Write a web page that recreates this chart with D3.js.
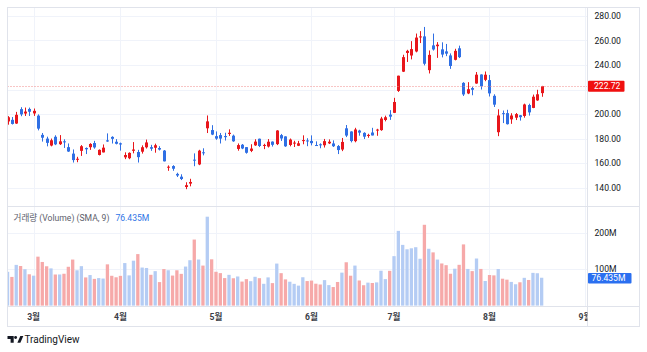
<!DOCTYPE html>
<html><head><meta charset="utf-8">
<script src="https://cdn.jsdelivr.net/npm/d3@7"></script>
<style>
html,body{margin:0;padding:0;background:#fff;}
svg{display:block;font-family:Roboto,"Noto Sans CJK KR",sans-serif;}
</style></head><body>
<svg id="c" width="647" height="352"></svg>
<script>
// ---------------- DATA ----------------
const dates = [
"2024-02-22","2024-02-23","2024-02-26","2024-02-27","2024-02-28","2024-02-29",
"2024-03-01","2024-03-04","2024-03-05","2024-03-06","2024-03-07","2024-03-08","2024-03-11","2024-03-12","2024-03-13","2024-03-14","2024-03-15","2024-03-18","2024-03-19","2024-03-20","2024-03-21","2024-03-22","2024-03-25","2024-03-26","2024-03-27","2024-03-28",
"2024-04-01","2024-04-02","2024-04-03","2024-04-04","2024-04-05","2024-04-08","2024-04-09","2024-04-10","2024-04-11","2024-04-12","2024-04-15","2024-04-16","2024-04-17","2024-04-18","2024-04-19","2024-04-22","2024-04-23","2024-04-24","2024-04-25","2024-04-26","2024-04-29","2024-04-30",
"2024-05-01","2024-05-02","2024-05-03","2024-05-06","2024-05-07","2024-05-08","2024-05-09","2024-05-10","2024-05-13","2024-05-14","2024-05-15","2024-05-16","2024-05-17","2024-05-20","2024-05-21","2024-05-22","2024-05-23","2024-05-24","2024-05-28","2024-05-29","2024-05-30","2024-05-31",
"2024-06-03","2024-06-04","2024-06-05","2024-06-06","2024-06-07","2024-06-10","2024-06-11","2024-06-12","2024-06-13","2024-06-14","2024-06-17","2024-06-18","2024-06-20","2024-06-21","2024-06-24","2024-06-25","2024-06-26","2024-06-27","2024-06-28",
"2024-07-01","2024-07-02","2024-07-03","2024-07-05","2024-07-08","2024-07-09","2024-07-10","2024-07-11","2024-07-12","2024-07-15","2024-07-16","2024-07-17","2024-07-18","2024-07-19","2024-07-22","2024-07-23","2024-07-24","2024-07-25","2024-07-26","2024-07-29","2024-07-30","2024-07-31",
"2024-08-01","2024-08-02","2024-08-05","2024-08-06","2024-08-07","2024-08-08","2024-08-09","2024-08-12","2024-08-13","2024-08-14","2024-08-15","2024-08-16","2024-08-19"];

const open = [
194.00,195.31,192.29,204.04,200.42,204.18,
200.52,198.73,183.05,179.99,174.35,181.50,175.45,177.77,173.05,167.77,163.16,170.02,172.36,173.00,176.39,166.69,168.76,178.58,181.41,177.45,
176.17,164.75,164.02,170.07,169.08,169.34,172.91,173.04,172.55,172.34,170.24,156.74,157.64,151.25,148.97,140.56,143.33,162.84,158.96,168.85,188.42,186.98,
182.00,182.86,182.10,183.80,182.40,171.59,175.01,173.05,170.00,174.50,179.90,174.10,173.55,177.56,175.51,182.85,181.80,174.84,176.40,174.19,178.58,178.50,
178.13,174.78,175.35,174.60,176.13,176.06,173.92,171.12,188.39,185.80,177.92,186.56,184.68,182.30,184.97,186.54,186.92,195.17,199.55,
201.02,218.89,234.56,249.81,247.71,251.00,262.80,263.30,235.80,255.97,255.31,252.73,251.09,247.79,244.21,253.60,225.42,216.80,221.19,224.90,232.25,227.90,
227.69,214.88,185.22,200.75,200.77,195.70,197.05,199.02,198.47,207.39,205.02,211.15,217.07];

const high = [
198.32,197.57,201.78,205.60,205.30,205.28,
204.52,199.75,184.59,181.58,180.04,182.73,182.87,179.43,176.05,171.17,165.18,174.72,172.82,176.25,178.18,171.20,175.24,184.25,181.91,179.57,
176.75,168.82,168.82,177.19,170.86,174.50,179.22,174.93,175.88,173.81,170.69,158.19,158.33,152.20,150.94,144.44,147.26,167.97,170.88,172.12,198.87,190.95,
185.86,184.60,184.78,187.56,183.26,176.06,175.62,173.06,175.40,179.49,180.00,175.79,179.63,177.75,186.88,183.80,181.90,180.08,178.25,178.15,182.67,180.32,
182.64,177.76,176.15,179.73,179.35,178.57,174.75,180.55,191.08,186.00,188.81,187.20,185.21,183.95,188.80,188.00,197.76,198.72,203.20,
213.23,231.30,248.35,252.37,259.44,265.61,267.59,271.00,251.84,265.60,258.62,258.47,257.14,249.44,253.21,255.76,225.99,226.00,222.28,234.27,232.41,234.68,
231.87,216.13,203.88,202.90,203.49,200.70,200.88,199.26,208.49,208.44,215.88,219.80,222.98];

const low = [
191.36,191.50,192.00,198.26,198.44,198.45,
198.50,186.72,177.57,173.70,173.70,174.70,174.80,172.41,169.15,160.51,160.76,165.90,167.42,170.82,171.80,166.30,168.73,177.38,176.00,175.30,
170.21,163.28,163.23,168.01,160.51,167.79,171.92,170.01,168.51,170.36,161.38,153.75,153.78,148.70,146.22,138.80,141.11,157.51,158.36,166.37,184.54,182.84,
179.01,176.02,178.42,182.20,177.40,170.15,171.40,167.75,169.00,174.07,173.11,171.43,172.75,173.52,174.71,178.12,173.26,173.73,173.16,173.93,175.38,173.82,
174.49,174.00,172.13,172.73,175.58,173.17,167.41,169.80,181.23,176.92,177.00,182.37,179.66,180.69,182.56,182.29,186.36,194.05,195.26,
200.85,218.06,234.25,242.46,244.57,250.30,257.86,239.65,233.09,251.73,245.80,246.18,247.20,236.83,243.75,245.63,214.71,216.23,215.33,224.70,220.00,226.79,
214.33,205.78,182.00,192.67,191.48,192.04,195.11,194.67,197.06,198.75,204.82,210.80,214.09];

const close = [
197.41,191.97,199.40,199.73,202.04,201.88,
202.64,188.14,180.74,176.54,178.65,175.34,177.77,177.54,169.48,162.50,163.57,173.80,171.32,175.66,172.82,170.83,172.63,177.67,179.83,175.79,
175.22,166.63,168.38,171.11,164.90,172.98,176.88,171.76,174.60,171.05,161.48,157.11,155.45,149.93,147.05,142.05,144.68,162.13,170.18,168.29,194.05,183.28,
179.99,180.01,181.19,184.76,177.81,174.72,171.97,168.47,171.89,177.55,173.99,174.84,177.46,174.95,186.60,180.11,173.74,179.24,176.75,176.19,178.79,178.08,
176.29,174.77,175.00,177.94,177.48,173.79,170.66,177.29,182.47,178.01,187.44,184.86,181.57,183.01,182.58,187.35,196.37,197.42,197.88,
209.86,231.26,246.39,251.52,252.94,262.33,263.26,241.03,248.23,252.64,256.56,248.50,249.23,239.20,251.51,246.38,215.99,220.25,219.80,232.10,222.62,232.07,
216.86,207.67,198.88,200.64,191.76,198.84,200.00,197.49,207.83,201.38,214.14,216.12,222.72];

// volume in millions
const volume = [
92.7,78.7,111.7,108.6,99.8,85.9,
82.1,134.3,119.7,107.9,102.1,85.3,85.4,87.4,106.5,126.3,96.9,108.2,77.3,83.8,73.3,75.5,74.2,113.2,81.8,77.7,
81.6,116.7,82.9,123.2,141.3,104.4,103.2,84.5,94.5,64.5,100.2,97.0,82.4,96.9,87.1,107.1,124.5,181.2,126.4,109.8,243.9,127.0,
92.8,89.1,75.5,84.4,75.0,79.9,65.9,72.6,67.0,79.0,75.2,59.8,77.4,61.7,115.3,89.0,71.9,65.5,59.7,54.8,77.8,67.3,
68.6,60.1,57.9,69.9,56.2,50.9,64.8,90.4,118.9,82.0,109.8,68.9,55.9,63.0,62.0,63.7,95.7,72.7,95.4,
135.7,205.0,166.6,154.5,157.2,160.2,128.5,221.7,155.9,146.0,126.3,115.6,110.9,87.4,101.2,111.9,167.9,100.6,94.6,129.2,100.6,67.5,
83.9,82.9,100.3,73.8,71.2,65.0,58.6,64.0,76.2,70.3,89.8,88.8,76.435];

const priceTicks = [140,160,180,200,220,240,260,280];
const volumeTicks = [100,200];
const volumeTickLabels = ["100M","200M"];
const monthKeys = ["2024-03","2024-04","2024-05","2024-06","2024-07","2024-08","2024-09"];
const monthLabels = ["3월","4월","5월","6월","7월","8월","9월"];
const holidays = ["2024-09-02"];
const legendTitle = "거래량 (Volume) (SMA, 9)";

// ---------------- LAYOUT ----------------
const L = 7.5, R = 639.5, AX = 587.5, T = 7.5, PB = 206.5, VB = 306.5, B = 326.5;
const C = {up:"#e8161b", down:"#2f6fe4", vUp:"#b4ccf4", vDown:"#f6a9a9",
           grid:"#f0f3fa", border:"#e0e3eb", text:"#131722"};

const svg = d3.select("#c");
const n = dates.length;
const x = d3.scaleLinear().domain([0, n - 1]).range([7.5, 541.6]);
const yP = d3.scaleLinear().domain([140, 280]).range([187.7, 15.9]);
const yV = d3.scaleLinear().domain([0, 200]).range([305.6, 232.7]);

// trading index for a month key (first trading day), extending past data
function monthIndex(key) {
  const i = dates.findIndex(d => d.startsWith(key));
  if (i >= 0) return i;
  const parse = d3.utcParse("%Y-%m-%d"), fmt = d3.utcFormat("%Y-%m-%d");
  let d = parse(dates[n - 1]), idx = n - 1;
  for (let k = 0; k < 60; k++) {
    d = d3.utcDay.offset(d, 1);
    const wd = d.getUTCDay();
    if (wd === 0 || wd === 6 || holidays.includes(fmt(d))) continue;
    idx++;
    if (fmt(d).startsWith(key)) return idx;
  }
  return idx;
}
const monthIdx = monthKeys.map(monthIndex);

const defs = svg.append("defs");
defs.append("clipPath").attr("id","cp").append("rect").attr("x",L).attr("y",T).attr("width",AX-L).attr("height",PB-T);
defs.append("clipPath").attr("id","cv").append("rect").attr("x",L).attr("y",PB).attr("width",AX-L).attr("height",VB-PB);
defs.append("clipPath").attr("id","ct").append("rect").attr("x",L).attr("y",VB).attr("width",AX-L).attr("height",B-VB);

// ---------------- GRID ----------------
const grid = svg.append("g").attr("stroke", C.grid).attr("stroke-width",1);
priceTicks.forEach(t => {
  const yy = Math.round(yP(t)) + 0.5;
  grid.append("line").attr("x1",L).attr("x2",AX).attr("y1",yy).attr("y2",yy);
});
volumeTicks.forEach(t => {
  const yy = Math.round(yV(t)) + 0.5;
  grid.append("line").attr("x1",L).attr("x2",AX).attr("y1",yy).attr("y2",yy);
});
monthIdx.forEach(i => {
  const xx = Math.round(x(i)) + 0.5;
  if (xx < AX) grid.append("line").attr("x1",xx).attr("x2",xx).attr("y1",T).attr("y2",VB);
});

// ---------------- CANDLES ----------------
const gp = svg.append("g").attr("clip-path","url(#cp)");
d3.range(n).forEach(i => {
  const upC = close[i] >= open[i];
  const col = upC ? C.up : C.down;
  const cx = Math.round(x(i));
  gp.append("line").attr("x1",cx+0.5).attr("x2",cx+0.5)
    .attr("y1",yP(high[i])).attr("y2",yP(low[i])).attr("stroke",col).attr("stroke-width",1);
  const y1 = yP(Math.max(open[i],close[i])), y2 = yP(Math.min(open[i],close[i]));
  gp.append("rect").attr("x",cx-1).attr("width",3)
    .attr("y",y1).attr("height",Math.max(1,y2-y1)).attr("fill",col);
});

// last price line
const lastY = yP(close[n-1]);
svg.append("line").attr("x1",L).attr("x2",AX).attr("y1",Math.round(lastY)+0.5).attr("y2",Math.round(lastY)+0.5)
  .attr("stroke","#f08a8a").attr("stroke-width",1).attr("stroke-dasharray","1 2");

// ---------------- VOLUME ----------------
const gv = svg.append("g").attr("clip-path","url(#cv)");
d3.range(n).forEach(i => {
  const upC = close[i] >= open[i];
  gv.append("rect").attr("x",x(i)-1.6).attr("width",3.3)
    .attr("y",yV(volume[i])).attr("height",yV(0)-yV(volume[i]))
    .attr("fill", upC ? C.vUp : C.vDown);
});

// ---------------- BORDERS ----------------
const bd = svg.append("g").attr("stroke",C.border).attr("stroke-width",1).attr("fill","none");
bd.append("rect").attr("x",L).attr("y",T).attr("width",R-L).attr("height",B-T);
bd.append("line").attr("x1",AX).attr("x2",AX).attr("y1",T).attr("y2",B);
bd.append("line").attr("x1",L).attr("x2",R).attr("y1",PB).attr("y2",PB);
bd.append("line").attr("x1",L).attr("x2",R).attr("y1",VB).attr("y2",VB);

// ---------------- PRICE AXIS ----------------
const pa = svg.append("g").attr("transform",`translate(${AX},0)`)
  .call(d3.axisRight(yP).tickValues(priceTicks.filter(t => Math.abs(yP(t)-lastY) > 9))
        .tickFormat(d3.format(".2f")).tickSize(0).tickPadding(7));
pa.select(".domain").remove();
pa.selectAll("text").attr("fill",C.text).attr("font-size","8.6px").attr("font-family","Roboto,sans-serif");

// last price label
svg.append("rect").attr("x",AX+0.5).attr("y",lastY-5.5).attr("width",36.5).attr("height",11).attr("fill","#f01010").attr("rx",1);
svg.append("text").attr("x",AX+6.5).attr("y",lastY).attr("dy","0.35em").attr("fill","#fff")
  .attr("font-size","8.6px").text(d3.format(".2f")(close[n-1]));

// ---------------- VOLUME AXIS ----------------
const va = svg.append("g").attr("transform",`translate(${AX},0)`)
  .call(d3.axisRight(yV).tickValues(volumeTicks).tickFormat((d,i) => volumeTickLabels[i]).tickSize(0).tickPadding(7));
va.select(".domain").remove();
va.selectAll("text").attr("fill",C.text).attr("font-size","8.6px").attr("font-family","Roboto,sans-serif");

const lastV = volume[n-1];
const lastVY = yV(lastV);
const vLabel = d3.format(".3f")(lastV) + "M";
svg.append("rect").attr("x",AX+0.5).attr("y",lastVY-4.8).attr("width",43.5).attr("height",10.5).attr("fill","#2a6ff0").attr("rx",1);
svg.append("text").attr("x",AX+4).attr("y",lastVY+0.5).attr("dy","0.35em").attr("fill","#fff")
  .attr("font-size","8.6px").text(vLabel);

// legend
const lg = svg.append("text").attr("x",13.5).attr("y",217.5).attr("dy","0.35em").attr("font-size","8.6px");
lg.append("tspan").attr("fill","#5d606b").text(legendTitle);
lg.append("tspan").attr("fill","#2f74e6").attr("dx",6).text(vLabel);

// ---------------- TIME AXIS ----------------
const ta = svg.append("g").attr("clip-path","url(#ct)");
monthIdx.forEach((i,k) => {
  ta.append("text").attr("x",x(i)).attr("y",317).attr("dy","0.35em").attr("text-anchor","middle")
    .attr("font-size","8.6px").attr("font-weight","bold").attr("fill","#3b3e47").text(monthLabels[k]);
});

// ---------------- LOGO ----------------
const logo = svg.append("g").attr("fill","#131722");
logo.append("path").attr("d","M7.5 336 h6.2 v6.8 h-3.1 v-3.9 h-3.1 z");
logo.append("circle").attr("cx",15.6).attr("cy",337.5).attr("r",1.45);
logo.append("path").attr("d","M17.4 342.8 l2.9 -6.8 h3 l-2.9 6.8 z");
svg.append("text").attr("x",24.5).attr("y",339.4).attr("dy","0.35em").attr("font-size","10px")
  .attr("fill","#131722").text("TradingView");
</script>
</body></html>
